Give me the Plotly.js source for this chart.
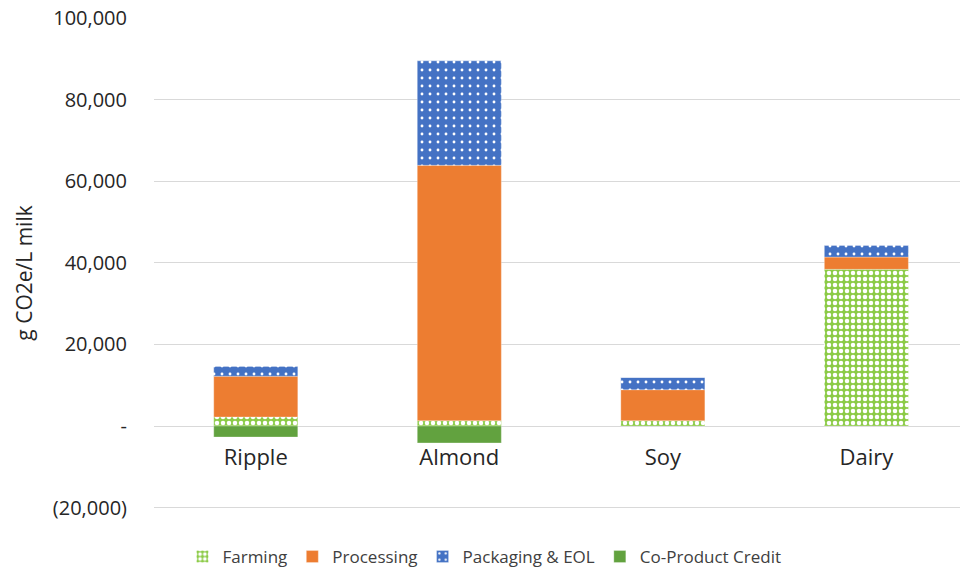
<!DOCTYPE html>
<html>
<head>
<meta charset="utf-8">
<script src="https://cdn.plot.ly/plotly-3.0.1.min.js"></script>
<style>html,body{margin:0;padding:0;background:#fff;}#chart{width:960px;height:575px;}</style>
</head>
<body>
<div id="chart"></div>
<script>
const categories = ['Ripple', 'Almond', 'Soy', 'Dairy'];
const farming = [2200, 1300, 1300, 38400];
const processing = [10000, 62600, 7600, 3000];
const packaging = [2400, 25600, 3000, 2900];
const coProductCredit = [-2700, -4150, 0, 0];
const seriesNames = ['Farming', 'Processing', 'Packaging & EOL', 'Co-Product Credit'];
const tickValues = [-20000, 0, 20000, 40000, 60000, 80000, 100000];
const tickLabels = ['(20,000)', '-', '20,000', '40,000', '60,000', '80,000', '100,000'];

const lineStyle = {color: 'rgba(255,255,255,0.6)', width: 0.5};
const traces = [
  {type: 'bar', name: seriesNames[0], x: categories, y: farming,
   marker: {color: '#92D050', line: lineStyle,
            pattern: {shape: '.', fillmode: 'replace', bgcolor: '#8CCB47', fgcolor: '#ffffff', size: 6, solidity: 0.45}}},
  {type: 'bar', name: seriesNames[1], x: categories, y: processing,
   marker: {color: '#ED7D31', line: lineStyle}},
  {type: 'bar', name: seriesNames[2], x: categories, y: packaging,
   marker: {color: '#4472C4', line: lineStyle,
            pattern: {shape: '.', fillmode: 'replace', bgcolor: '#4472C4', fgcolor: '#ffffff', size: 8, solidity: 0.1}}},
  {type: 'bar', name: seriesNames[3], x: categories, y: coProductCredit,
   marker: {color: '#62A23F', line: lineStyle}}
];

const layout = {
  width: 960, height: 575,
  margin: {l: 154, r: 0, t: 18, b: 46},
  paper_bgcolor: '#ffffff', plot_bgcolor: '#ffffff',
  barmode: 'relative',
  bargap: 0.587,
  font: {family: 'Open Sans, Liberation Sans, sans-serif', color: '#404040'},
  xaxis: {
    type: 'category', range: [-0.5, 3.46],
    showgrid: false, showline: false, zeroline: false,
    ticks: '', tickfont: {size: 22, color: '#262626'},
    anchor: 'free', position: 0.2, ticklabelstandoff: 16
  },
  yaxis: {
    range: [-25000, 100000],
    tickvals: tickValues, ticktext: tickLabels,
    tickfont: {size: 20, color: '#262626'},
    ticklabelstandoff: 26,
    showgrid: true, gridcolor: '#d9d9d9', gridwidth: 1,
    zeroline: false, showline: false, ticks: '',
    title: {text: 'g CO2e/L milk', font: {size: 21, color: '#262626'}, standoff: 14}
  },
  legend: {
    orientation: 'h', x: 0.41, xanchor: 'center', y: -0.057, yanchor: 'middle',
    font: {size: 17, color: '#404040'}, traceorder: 'normal',
    itemwidth: 30
  },
  showlegend: true
};

Plotly.newPlot('chart', traces, layout, {displayModeBar: false, staticPlot: true});
</script>
</body>
</html>
